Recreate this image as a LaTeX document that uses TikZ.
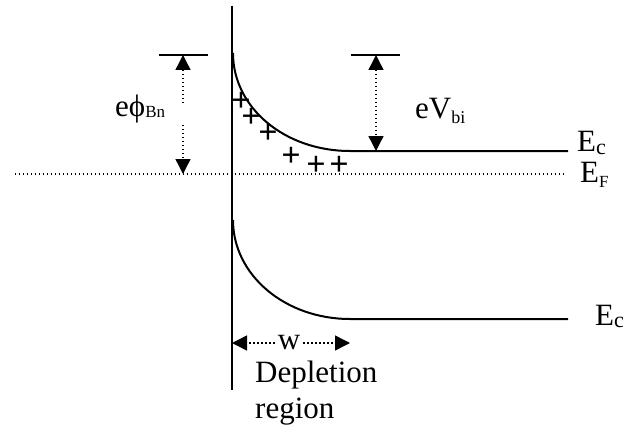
\documentclass[tikz,border=0pt]{standalone}
\usepackage{fontspec}
\setmainfont{Liberation Serif}
\usetikzlibrary{arrows.meta}
\newcommand{\subtxt}[3][5pt]{\raisebox{-#1}{\fontsize{#2}{#2}\selectfont #3}}

\begin{document}
\begin{tikzpicture}[
    x=1pt, y=-1pt,
    >={Triangle[width=15pt,length=15pt]},
    band/.style={line width=2pt},
    level/.style={line width=1.4pt, dash pattern=on 1.4pt off 2.6pt},
    dimarrow/.style={->, line width=1.4pt, dash pattern=on 1.4pt off 2.6pt},
    txt/.style={font=\fontsize{31}{36}\selectfont, inner sep=0pt},
    charge/.style={font=\fontsize{34}{34}\selectfont\bfseries, inner sep=0pt}
  ]
    \useasboundingbox (0,0) rectangle (624,428);

    % Interface
    \coordinate (ifTop) at (232,6);
    \coordinate (ifBot) at (232,390);
    \draw[band] (ifTop) -- (ifBot);

    % Bands
    \coordinate (cbTop) at (233,53);
    \coordinate (cbKnee) at (350,151);
    \coordinate (cbEnd) at (568,151);
    \draw[band] (cbTop) .. controls (233,108) and (285,151) .. (cbKnee) -- (cbEnd);
    \coordinate (vbTop) at (233,220);
    \coordinate (vbKnee) at (350,319);
    \coordinate (vbEnd) at (568,319);
    \draw[band] (vbTop) .. controls (233,275) and (285,319) .. (vbKnee) -- (vbEnd);

    % Fermi level
    \coordinate (efL) at (15,174);
    \coordinate (efR) at (565,174);
    \draw[level] (efL) -- (efR);

    % Barrier tops
    \coordinate (barLa) at (159,55);
    \coordinate (barLb) at (208,55);
    \coordinate (barRa) at (351,55);
    \coordinate (barRb) at (400,55);
    \draw[band] (barLa) -- (barLb);
    \draw[band] (barRa) -- (barRb);

    % Arrows
    \coordinate (phiTop) at (183,55);
    \coordinate (phiGapT) at (183,103);
    \coordinate (phiGapB) at (183,125);
    \coordinate (phiBot) at (183,174);
    \draw[dimarrow] (phiGapT) -- (phiTop);
    \draw[dimarrow] (phiGapB) -- (phiBot);
    \coordinate (vbiTop) at (376,55);
    \coordinate (vbiBot) at (376,151);
    \draw[dimarrow, <->] (vbiTop) -- (vbiBot);
    \node[txt, inner xsep=3pt] (wlab) at (289,343) {w};
    \coordinate (wL) at (232,343);
    \coordinate (wR) at (350,343);
    \draw[dimarrow] (wlab.west) -- (wL);
    \draw[dimarrow] (wlab.east) -- (wR);

    % Labels
    \node[txt, anchor=base west] (phiB) at (115,117) {eϕ\subtxt[1pt]{17}{Bn}};
    \node[txt, anchor=base west] (vbi) at (415,118) {eV\subtxt{18}{bi}};
    \node[txt, anchor=base west] (ecTop) at (577,151) {E\subtxt[3pt]{22}{c}};
    \node[txt, anchor=base west] (ef) at (580,182) {E\subtxt{17}{F}};
    \node[txt, anchor=base west] (ecBot) at (595,325) {E\subtxt[2pt]{22}{c}};
    \node[txt, anchor=north west, align=left] (depl) at (255,361) {Depletion\\region};

    % Donor charges
    \foreach \px/\py [count=\i] in {241/102, 251/118, 268/134, 291/157, 316/166, 339/166}
      \node[charge] (plus\i) at (\px,\py) {+};
\end{tikzpicture}
\end{document}
